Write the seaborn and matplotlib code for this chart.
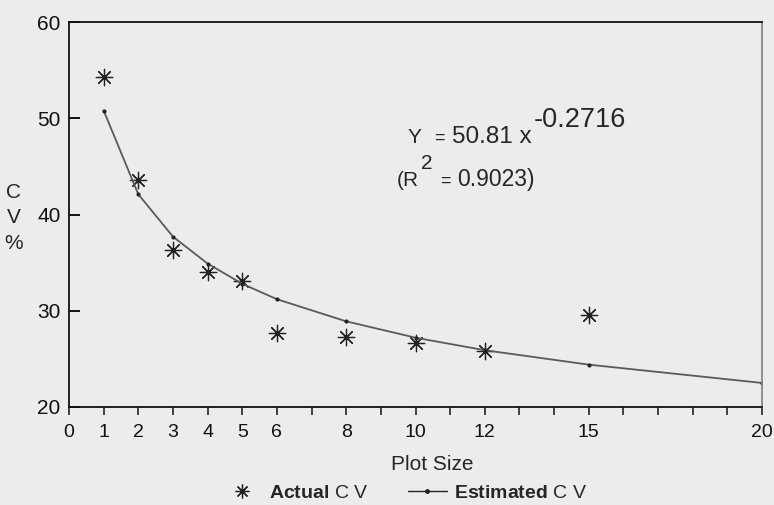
import matplotlib
matplotlib.use("Agg")
import matplotlib.pyplot as plt
from matplotlib.lines import Line2D
import pandas as pd
import seaborn as sns

# values
plot_size = [1, 2, 3, 4, 5, 6, 8, 10, 12, 15]
actual_cv = [54.3, 43.6, 36.3, 34.0, 33.1, 27.7, 27.3, 26.6, 25.8, 29.6]

est_size = [1, 2, 3, 4, 5, 6, 8, 10, 12, 15, 20]
estimated_cv = [50.8, 42.1, 37.7, 34.9, 32.8, 31.2, 28.9, 27.2, 25.9, 24.4, 22.5]

tick_positions = list(range(0, 21))
tick_labels = ["0", "1", "2", "3", "4", "5", "6", "8", "10", "12", "15", "20"]

actual = pd.DataFrame({"size": plot_size, "cv": actual_cv})
estimated = pd.DataFrame({"size": est_size, "cv": estimated_cv})

sns.set_theme(style="white")
bg = "#ececec"
plt.rcParams["font.family"] = ["Liberation Sans", "DejaVu Sans"]
plt.rcParams["mathtext.fontset"] = "custom"
plt.rcParams["mathtext.rm"] = "Liberation Sans"
plt.rcParams["mathtext.bf"] = "Liberation Sans:bold"

fig = plt.figure(figsize=(7.74, 5.05), dpi=100, facecolor=bg)
ax = fig.add_axes([69 / 774, 98 / 505, 693 / 774, 385 / 505], facecolor=bg)

star = (8, 2, 0)
sns.lineplot(data=estimated, x="size", y="cv", ax=ax, color="#5a5a5a", linewidth=1.3,
             marker="o", markersize=3, markerfacecolor="#222222", markeredgewidth=0,
             legend=False)
sns.scatterplot(data=actual, x="size", y="cv", ax=ax, marker=star, s=140,
                color="#222222", linewidth=0.9, legend=False)

ax.set_xlim(0, 20)
ax.set_ylim(20, 60)
ax.set_xticks(tick_positions)
ax.set_xticklabels([str(t) if str(t) in tick_labels else "" for t in tick_positions])
ax.set_yticks([20, 30, 40, 50, 60])
ax.tick_params(axis="x", direction="out", length=6, width=1.2, color="#222222",
               labelsize=14, pad=6, bottom=True, labelcolor="#111111")
ax.tick_params(axis="y", direction="in", length=8, width=1.4, color="#111111",
               labelsize=15, pad=6, left=True, labelcolor="#111111")
ax.set_xlabel("")
ax.set_ylabel("")
for name, sp in ax.spines.items():
    sp.set_visible(True)
    sp.set_color("#111111")
    sp.set_linewidth(1.3)
ax.spines["right"].set_color("#888888")

# equation
ax.text(9.78, 47.4, "Y", fontsize=15, ha="left", va="baseline")
ax.text(10.55, 47.4, "=", fontsize=13, ha="left", va="baseline")
ax.text(11.05, 47.4, "50.81 x", fontsize=17.5, ha="left", va="baseline")
ax.text(13.4, 49.1, "-0.2716", fontsize=19.5, ha="left", va="baseline")
ax.text(9.47, 43.0, "(R", fontsize=15, ha="left", va="baseline")
ax.text(10.15, 44.7, "2", fontsize=15, ha="left", va="baseline")
ax.text(10.7, 43.0, "=", fontsize=13, ha="left", va="baseline")
ax.text(11.2, 43.0, "0.9023)", fontsize=16.5, ha="left", va="baseline")

fig.text(14 / 774, 1 - 218 / 505, "C\nV\n%", fontsize=15, ha="center", va="center",
         linespacing=1.45)
fig.text(432 / 774, 1 - 465 / 505, "Plot Size", fontsize=15, ha="center", va="center")

handles = [
    Line2D([], [], marker=star, linestyle="none", color="#222222", markersize=10,
           markeredgewidth=0.9),
    Line2D([], [], color="#222222", linewidth=1.0, marker="o", markersize=2.5),
]
fig.legend(handles, [r"$\mathbf{Actual}$ C V", r"$\mathbf{Estimated}$ C V"],
           loc="center", bbox_to_anchor=(405 / 774, 1 - 493 / 505), ncol=2,
           frameon=False, fontsize=14, handlelength=2.0, columnspacing=2.0,
           handletextpad=0.4)

fig.savefig("out.png", dpi=100, facecolor=bg)
